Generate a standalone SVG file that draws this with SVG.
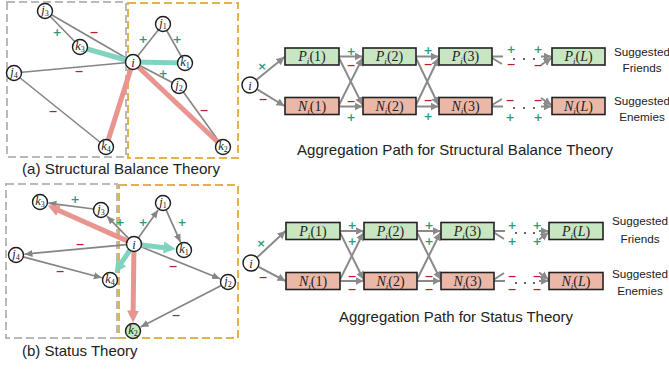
<svg xmlns="http://www.w3.org/2000/svg" width="669" height="369" viewBox="0 0 669 369">
<style>
.bg{fill:#fff}
.nd circle{fill:#fff;stroke:#1c1c1c;stroke-width:1.4}
.lbl{font-family:"Liberation Serif",serif;font-style:italic;font-size:12.5px;fill:#222}
.sub{font-size:8px;font-style:normal}
.subi{font-size:9px}
.e{stroke:#858585;stroke-width:1.6;fill:none}
.ea{stroke:#858585;stroke-width:1.7;fill:none;marker-end:url(#ah)}
.tp{stroke:#e8958f;stroke-width:5;fill:none}
.tt{stroke:#7fd3bf;stroke-width:5;fill:none}
.tpa{stroke:#e8958f;stroke-width:5;fill:none;marker-end:url(#ahp)}
.tta{stroke:#7fd3bf;stroke-width:5;fill:none;marker-end:url(#aht)}
.pos{font-family:"DejaVu Sans",sans-serif;font-weight:bold;font-size:11px;fill:#2a9a7c;text-anchor:middle}
.neg{font-family:"DejaVu Sans",sans-serif;font-weight:bold;font-size:11px;fill:#b52030;text-anchor:middle}
.gbox{fill:none;stroke:#b9b9b9;stroke-width:2;stroke-dasharray:8 4}
.obox{fill:none;stroke:#e3b24c;stroke-width:2;stroke-dasharray:8 4}
.bp{fill:#c9e6c2;stroke:#222;stroke-width:1.6}
.bn{fill:#ebb8a8;stroke:#222;stroke-width:1.6}
.bt{font-family:"Liberation Serif",serif;font-size:14px;fill:#222;text-anchor:middle}
.it{font-style:italic}
.pa{stroke:#8a8a8a;stroke-width:2;fill:none;marker-end:url(#ah2)}
.ps{stroke:#8a8a8a;stroke-width:2;fill:none}
.cap{font-family:"Liberation Sans",sans-serif;font-size:15px;fill:#222}
.sg{font-family:"Liberation Sans",sans-serif;font-size:11.7px;fill:#222;text-anchor:middle}
.dot{fill:#333}
</style>
<defs>
<marker id="ah" viewBox="0 -5 10 10" refX="8" refY="0" markerWidth="10" markerHeight="10" markerUnits="userSpaceOnUse" orient="auto"><path d="M0,-3.5 L8,0 L0,3.5 z" fill="#858585"/></marker>
<marker id="ah2" viewBox="0 -5 10 10" refX="8" refY="0" markerWidth="10" markerHeight="10" markerUnits="userSpaceOnUse" orient="auto"><path d="M0,-4 L8,0 L0,4 z" fill="#8a8a8a"/></marker>
<marker id="ahp" viewBox="0 -7 14 14" refX="3" refY="0" markerWidth="14" markerHeight="14" markerUnits="userSpaceOnUse" orient="auto"><path d="M0,-6 L12,0 L0,6 z" fill="#e8958f"/></marker>
<marker id="aht" viewBox="0 -7 14 14" refX="3" refY="0" markerWidth="14" markerHeight="14" markerUnits="userSpaceOnUse" orient="auto"><path d="M0,-6 L12,0 L0,6 z" fill="#7fd3bf"/></marker>
</defs>
<rect class="bg" width="669" height="369"/>

<!-- (a) Structural balance graph -->
<rect class="gbox" x="7" y="2" width="119" height="155"/>
<rect class="obox" x="128" y="3" width="110" height="155"/>
<g id="a-edges">
<line class="e" x1="45" y1="11" x2="133" y2="62"/>
<line class="e" x1="45" y1="11" x2="80" y2="47"/>
<line class="e" x1="14" y1="73" x2="133" y2="62"/>
<line class="e" x1="14" y1="73" x2="106" y2="147"/>
<line class="e" x1="133" y1="62" x2="163" y2="24"/>
<line class="e" x1="163" y1="24" x2="185" y2="63"/>
<line class="e" x1="133" y1="62" x2="179" y2="86"/>
<line class="e" x1="179" y1="86" x2="223" y2="147"/>
<line class="tt" x1="80" y1="47" x2="133" y2="62"/>
<line class="tt" x1="133" y1="62" x2="185" y2="63"/>
<line class="tp" x1="133" y1="62" x2="106" y2="147"/>
<line class="tp" x1="133" y1="62" x2="223" y2="147"/>
<text class="neg" x="94" y="36">−</text>
<text class="pos" x="57" y="36">+</text>
<text class="neg" x="79" y="75">−</text>
<text class="neg" x="53" y="115">−</text>
<text class="pos" x="143" y="43">+</text>
<text class="pos" x="177" y="43">+</text>
<text class="pos" x="163" y="77">+</text>
<text class="neg" x="204" y="114">−</text>
</g>
<g id="a-j3" class="nd" transform="translate(45,11)"><circle r="7.5"/><text class="lbl" y="3" text-anchor="middle">j<tspan class="sub" dy="2">3</tspan></text></g>
<g id="a-k3" class="nd" transform="translate(80,47)"><circle r="7.5"/><text class="lbl" y="3" text-anchor="middle">k<tspan class="sub" dy="2">3</tspan></text></g>
<g id="a-j4" class="nd" transform="translate(14,73)"><circle r="7.5"/><text class="lbl" y="3" text-anchor="middle">j<tspan class="sub" dy="2">4</tspan></text></g>
<g id="a-i" class="nd" transform="translate(133,62)"><circle r="7.5"/><text class="lbl" y="4.5" text-anchor="middle" font-size="13">i</text></g>
<g id="a-j1" class="nd" transform="translate(163,24)"><circle r="7.5"/><text class="lbl" y="3" text-anchor="middle">j<tspan class="sub" dy="2">1</tspan></text></g>
<g id="a-k1" class="nd" transform="translate(185,63)"><circle r="7.5"/><text class="lbl" y="3" text-anchor="middle">k<tspan class="sub" dy="2">1</tspan></text></g>
<g id="a-j2" class="nd" transform="translate(179,86)"><circle r="7.5"/><text class="lbl" y="3" text-anchor="middle">j<tspan class="sub" dy="2">2</tspan></text></g>
<g id="a-k4" class="nd" transform="translate(106,147)"><circle r="7.5"/><text class="lbl" y="3" text-anchor="middle">k<tspan class="sub" dy="2">4</tspan></text></g>
<g id="a-k2" class="nd" transform="translate(223,147)"><circle r="7.5"/><text class="lbl" y="3" text-anchor="middle">k<tspan class="sub" dy="2">2</tspan></text></g>
<text class="cap" x="22" y="174" textLength="198" lengthAdjust="spacingAndGlyphs">(a) Structural Balance Theory</text>

<!-- (b) Status graph -->
<rect class="gbox" x="6" y="184" width="111" height="154"/>
<rect class="obox" x="119" y="185" width="119" height="153"/>
<g id="b-edges">
<line class="ea" x1="93.6" y1="209" x2="48.4" y2="203.1"/>
<line class="ea" x1="128.8" y1="238.6" x2="106.9" y2="216.1"/>
<line class="ea" x1="138.3" y1="237.9" x2="158.1" y2="209.9"/>
<line class="ea" x1="166.1" y1="209.8" x2="180.5" y2="242.2"/>
<line class="ea" x1="126.5" y1="244.7" x2="24.5" y2="254.2"/>
<line class="ea" x1="23.2" y1="256.9" x2="101.8" y2="277.8"/>
<line class="ea" x1="141" y1="246.8" x2="220.1" y2="278.8"/>
<line class="ea" x1="221.3" y1="285.4" x2="140.6" y2="327.1"/>
<line class="tpa" x1="127.2" y1="240.9" x2="56" y2="209.2"/>
<line class="tta" x1="129.8" y1="250.2" x2="119.7" y2="265.4"/>
<line class="tta" x1="141.4" y1="244.9" x2="166.7" y2="247.9"/>
<line class="tpa" x1="133.9" y1="251.5" x2="133.1" y2="313.5"/>
<text class="pos" x="75" y="203">+</text>
<text class="pos" x="120" y="226">+</text>
<text class="pos" x="143" y="226">+</text>
<text class="pos" x="182" y="226">+</text>
<text class="neg" x="80" y="248">−</text>
<text class="neg" x="60" y="275">−</text>
<text class="neg" x="173" y="270">−</text>
<text class="neg" x="176" y="319">−</text>
</g>
<g id="b-k3" class="nd" transform="translate(40,202)"><circle r="7.5"/><text class="lbl" y="3" text-anchor="middle">k<tspan class="sub" dy="2">3</tspan></text></g>
<g id="b-j3" class="nd" transform="translate(101,210)"><circle r="7.5"/><text class="lbl" y="3" text-anchor="middle">j<tspan class="sub" dy="2">3</tspan></text></g>
<g id="b-j1" class="nd" transform="translate(163,203)"><circle r="7.5"/><text class="lbl" y="3" text-anchor="middle">j<tspan class="sub" dy="2">1</tspan></text></g>
<g id="b-i" class="nd" transform="translate(134,244)"><circle r="7.5"/><text class="lbl" y="4.5" text-anchor="middle" font-size="13">i</text></g>
<g id="b-k1" class="nd" transform="translate(184,250)"><circle r="7.5"/><text class="lbl" y="3" text-anchor="middle">k<tspan class="sub" dy="2">1</tspan></text></g>
<g id="b-j4" class="nd" transform="translate(16,255)"><circle r="7.5"/><text class="lbl" y="3" text-anchor="middle">j<tspan class="sub" dy="2">4</tspan></text></g>
<g id="b-k4" class="nd" transform="translate(110,280)"><circle r="7.5"/><text class="lbl" y="3" text-anchor="middle">k<tspan class="sub" dy="2">4</tspan></text></g>
<g id="b-j2" class="nd" transform="translate(228,282)"><circle r="7.5"/><text class="lbl" y="3" text-anchor="middle">j<tspan class="sub" dy="2">2</tspan></text></g>
<g id="b-k2" class="nd" transform="translate(133,331)"><circle r="7.5" style="fill:#c9e6c2"/><text class="lbl" y="3" text-anchor="middle">k<tspan class="sub" dy="2">2</tspan></text></g>
<text class="cap" x="22" y="356">(b) Status Theory</text>

<!-- Top aggregation path -->
<g id="top-connectors">
<path class="pa" d="M256.2,80 L284.5,57"/>
<path class="pa" d="M256.8,89.2 L284.5,106"/>
<path class="pa" d="M339,56.5 L362.5,56.5"/>
<path class="pa" d="M339,58 L362.5,105"/>
<path class="pa" d="M339,105 L362.5,58"/>
<path class="pa" d="M339,106.5 L362.5,106.5"/>
<path class="pa" d="M416,56.5 L438.5,56.5"/>
<path class="pa" d="M416,58 L438.5,105"/>
<path class="pa" d="M416,105 L438.5,58"/>
<path class="pa" d="M416,106.5 L438.5,106.5"/>
<path class="ps" d="M492,56.5 L503,56.5 M492,58 L502,64 M492,106.5 L503,106.5 M492,105 L502,99"/>
<path class="pa" d="M541,56.5 L551.5,56.5"/>
<path class="pa" d="M541,65 L551.5,58"/>
<path class="pa" d="M541,106.5 L551.5,106.5"/>
<path class="pa" d="M541,98 L551.5,105"/>
<circle class="dot" cx="514" cy="59" r="1"/><circle class="dot" cx="524" cy="59" r="1"/><circle class="dot" cx="534" cy="59" r="1"/>
<circle class="dot" cx="514" cy="108" r="1"/><circle class="dot" cx="524" cy="108" r="1"/><circle class="dot" cx="534" cy="108" r="1"/>
<text class="pos" x="262" y="70">×</text>
<text class="neg" x="263" y="103">−</text>
<text class="pos" x="351" y="55">+</text><text class="neg" x="351" y="69">−</text>
<text class="neg" x="351" y="105">−</text><text class="pos" x="351" y="121">+</text>
<text class="pos" x="428" y="54">+</text><text class="neg" x="428" y="68">−</text>
<text class="neg" x="428" y="104">−</text><text class="pos" x="428" y="120">+</text>
<text class="pos" x="511" y="53">+</text><text class="neg" x="511" y="68">−</text>
<text class="pos" x="538" y="53">+</text><text class="neg" x="538" y="69">−</text>
<text class="neg" x="510" y="104">−</text><text class="pos" x="510" y="121">+</text>
<text class="neg" x="538" y="104">−</text><text class="pos" x="538" y="121">+</text>
</g>
<g id="t-i" class="nd" transform="translate(250,85)"><circle r="8"/><text class="lbl" y="4.5" text-anchor="middle" font-size="13">i</text></g>
<g id="t-P1"><rect class="bp" x="285" y="48" width="54" height="17"/><text class="bt" x="312" y="61"><tspan class="it">P</tspan><tspan class="it subi" dy="3">i</tspan><tspan dy="-3">(1)</tspan></text></g>
<g id="t-P2"><rect class="bp" x="363" y="48" width="53" height="17"/><text class="bt" x="389.5" y="61"><tspan class="it">P</tspan><tspan class="it subi" dy="3">i</tspan><tspan dy="-3">(2)</tspan></text></g>
<g id="t-P3"><rect class="bp" x="439" y="48" width="53" height="17"/><text class="bt" x="465.5" y="61"><tspan class="it">P</tspan><tspan class="it subi" dy="3">i</tspan><tspan dy="-3">(3)</tspan></text></g>
<g id="t-PL"><rect class="bp" x="552" y="48" width="53" height="17"/><text class="bt" x="578.5" y="61"><tspan class="it">P</tspan><tspan class="it subi" dy="3">i</tspan><tspan dy="-3">(</tspan><tspan class="it">L</tspan><tspan>)</tspan></text></g>
<g id="t-N1"><rect class="bn" x="285" y="97.5" width="54" height="17"/><text class="bt" x="312" y="110.5"><tspan class="it">N</tspan><tspan class="it subi" dy="3">i</tspan><tspan dy="-3">(1)</tspan></text></g>
<g id="t-N2"><rect class="bn" x="363" y="97.5" width="53" height="17"/><text class="bt" x="389.5" y="110.5"><tspan class="it">N</tspan><tspan class="it subi" dy="3">i</tspan><tspan dy="-3">(2)</tspan></text></g>
<g id="t-N3"><rect class="bn" x="439" y="97.5" width="53" height="17"/><text class="bt" x="465.5" y="110.5"><tspan class="it">N</tspan><tspan class="it subi" dy="3">i</tspan><tspan dy="-3">(3)</tspan></text></g>
<g id="t-NL"><rect class="bn" x="552" y="97.5" width="53" height="17"/><text class="bt" x="578.5" y="110.5"><tspan class="it">N</tspan><tspan class="it subi" dy="3">i</tspan><tspan dy="-3">(</tspan><tspan class="it">L</tspan><tspan>)</tspan></text></g>
<text class="sg" x="642" y="56">Suggested</text>
<text class="sg" x="642" y="72">Friends</text>
<text class="sg" x="642" y="105">Suggested</text>
<text class="sg" x="642" y="121">Enemies</text>
<text class="cap" x="297" y="155" textLength="316" lengthAdjust="spacingAndGlyphs">Aggregation Path for Structural Balance Theory</text>

<!-- Bottom aggregation path -->
<g id="bot-connectors">
<path class="pa" d="M256.9,257.6 L285.5,231"/>
<path class="pa" d="M258.1,266.7 L285.5,281"/>
<path class="pa" d="M340,231 L363.5,231"/>
<path class="pa" d="M340,232.5 L363.5,279.5"/>
<path class="pa" d="M340,279.5 L363.5,232.5"/>
<path class="pa" d="M340,281 L363.5,281"/>
<path class="pa" d="M417,231 L440.5,231"/>
<path class="pa" d="M417,232.5 L440.5,279.5"/>
<path class="pa" d="M417,279.5 L440.5,232.5"/>
<path class="pa" d="M417,281 L440.5,281"/>
<path class="ps" d="M494,231 L505,231 M494,232.5 L504,239 M494,281 L505,281 M494,279.5 L504,273"/>
<path class="pa" d="M539,231 L548.5,231"/>
<path class="pa" d="M539,239.5 L548.5,232.5"/>
<path class="pa" d="M539,281 L548.5,281"/>
<path class="pa" d="M539,272.5 L548.5,279.5"/>
<circle class="dot" cx="516" cy="233" r="1"/><circle class="dot" cx="525" cy="233" r="1"/><circle class="dot" cx="534" cy="233" r="1"/>
<circle class="dot" cx="516" cy="283" r="1"/><circle class="dot" cx="525" cy="283" r="1"/><circle class="dot" cx="534" cy="283" r="1"/>
<text class="pos" x="261" y="247">×</text>
<text class="neg" x="263" y="281">−</text>
<text class="pos" x="352" y="229">+</text><text class="pos" x="352" y="245">+</text>
<text class="neg" x="352" y="280">−</text><text class="neg" x="352" y="293">−</text>
<text class="pos" x="429" y="229">+</text><text class="pos" x="429" y="245">+</text>
<text class="neg" x="429" y="280">−</text><text class="neg" x="429" y="293">−</text>
<text class="pos" x="512" y="229">+</text><text class="pos" x="512" y="245">+</text>
<text class="pos" x="537" y="229">+</text><text class="pos" x="537" y="245">+</text>
<text class="neg" x="512" y="280">−</text><text class="neg" x="512" y="293">−</text>
<text class="neg" x="537" y="280">−</text><text class="neg" x="537" y="293">−</text>
</g>
<g id="s-i" class="nd" transform="translate(251,263)"><circle r="8"/><text class="lbl" y="4.5" text-anchor="middle" font-size="13">i</text></g>
<g id="s-P1"><rect class="bp" x="286" y="222.5" width="54" height="17"/><text class="bt" x="313" y="235.5"><tspan class="it">P</tspan><tspan class="it subi" dy="3">i</tspan><tspan dy="-3">(1)</tspan></text></g>
<g id="s-P2"><rect class="bp" x="364" y="222.5" width="53" height="17"/><text class="bt" x="390.5" y="235.5"><tspan class="it">P</tspan><tspan class="it subi" dy="3">i</tspan><tspan dy="-3">(2)</tspan></text></g>
<g id="s-P3"><rect class="bp" x="441" y="222.5" width="53" height="17"/><text class="bt" x="467.5" y="235.5"><tspan class="it">P</tspan><tspan class="it subi" dy="3">i</tspan><tspan dy="-3">(3)</tspan></text></g>
<g id="s-PL"><rect class="bp" x="549" y="222.5" width="54" height="17"/><text class="bt" x="576" y="235.5"><tspan class="it">P</tspan><tspan class="it subi" dy="3">i</tspan><tspan dy="-3">(</tspan><tspan class="it">L</tspan><tspan>)</tspan></text></g>
<g id="s-N1"><rect class="bn" x="286" y="272.5" width="54" height="17"/><text class="bt" x="313" y="285.5"><tspan class="it">N</tspan><tspan class="it subi" dy="3">i</tspan><tspan dy="-3">(1)</tspan></text></g>
<g id="s-N2"><rect class="bn" x="364" y="272.5" width="53" height="17"/><text class="bt" x="390.5" y="285.5"><tspan class="it">N</tspan><tspan class="it subi" dy="3">i</tspan><tspan dy="-3">(2)</tspan></text></g>
<g id="s-N3"><rect class="bn" x="441" y="272.5" width="53" height="17"/><text class="bt" x="467.5" y="285.5"><tspan class="it">N</tspan><tspan class="it subi" dy="3">i</tspan><tspan dy="-3">(3)</tspan></text></g>
<g id="s-NL"><rect class="bn" x="549" y="272.5" width="54" height="17"/><text class="bt" x="576" y="285.5"><tspan class="it">N</tspan><tspan class="it subi" dy="3">i</tspan><tspan dy="-3">(</tspan><tspan class="it">L</tspan><tspan>)</tspan></text></g>
<text class="sg" x="640" y="225">Suggested</text>
<text class="sg" x="640" y="243">Friends</text>
<text class="sg" x="640" y="278">Suggested</text>
<text class="sg" x="640" y="295">Enemies</text>
<text class="cap" x="456" y="322" text-anchor="middle" textLength="234" lengthAdjust="spacingAndGlyphs">Aggregation Path for Status Theory</text>
</svg>
